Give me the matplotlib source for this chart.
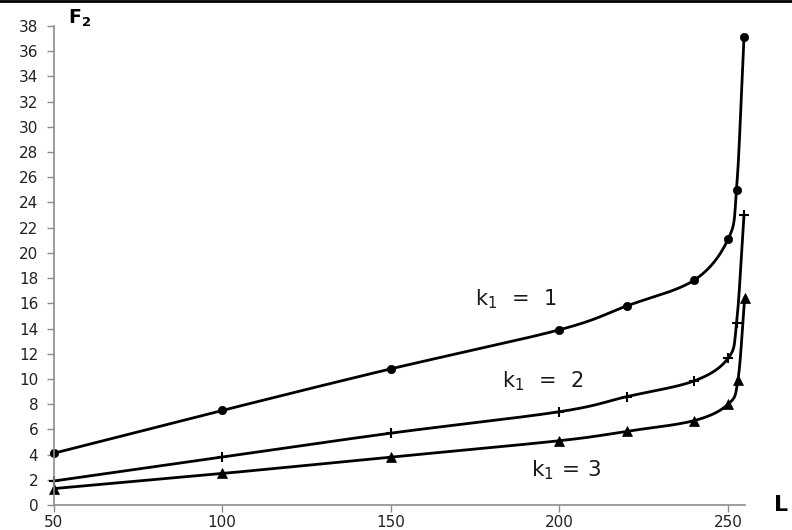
import numpy as np
import matplotlib
matplotlib.use("Agg")
import matplotlib.pyplot as plt
from matplotlib.lines import Line2D

# ---- data ----
L_k1 = [50, 100, 150, 200, 220, 240, 250, 252.5, 254.7]
F_k1 = [4.1, 7.5, 10.8, 13.9, 15.8, 17.85, 21.1, 25.0, 37.1]

L_k2 = [50, 100, 150, 200, 220, 240, 250, 252.5, 254.7]
F_k2 = [1.9, 3.8, 5.7, 7.4, 8.6, 9.85, 11.65, 14.4, 23.0]

L_k3 = [50, 100, 150, 200, 220, 240, 250, 252.9, 254.9]
F_k3 = [1.3, 2.5, 3.8, 5.1, 5.85, 6.7, 8.0, 9.9, 16.45]

x_ticks = [50, 100, 150, 200, 250]
y_ticks = list(range(0, 40, 2))
labels = [r"$\mathregular{k_1\,\ =\ \,1}$", r"$\mathregular{k_1\,\ =\ \,2}$", r"$\mathregular{k_1\,=\,3}$"]

fig = plt.figure(figsize=(7.92, 5.30), dpi=100)
ax = fig.add_axes([53.5 / 792, 1 - 505 / 530, (745 - 53.5) / 792, (505 - 26) / 530])
ax.set_xlim(50, 255)
ax.set_ylim(0, 38)


def smooth(xs, ys, n=30):
    # Catmull-Rom style smoothing in display-proportional space (for drawing the connecting line)
    sx, sy = 3.374, 12.6
    P = np.column_stack([np.asarray(xs) * sx, np.asarray(ys) * sy])
    P = np.vstack([P[0] - (P[1] - P[0]), P, P[-1] + (P[-1] - P[-2])])
    out = []
    for i in range(1, len(P) - 2):
        p0, p1, p2, p3 = P[i - 1], P[i], P[i + 1], P[i + 2]
        t = np.linspace(0, 1, n)[:, None]
        seg = 0.5 * ((2 * p1) + (-p0 + p2) * t + (2 * p0 - 5 * p1 + 4 * p2 - p3) * t ** 2
                     + (-p0 + 3 * p1 - 3 * p2 + p3) * t ** 3)
        out.append(seg if i == 1 else seg[1:])
    out = np.vstack(out)
    return out[:, 0] / sx, out[:, 1] / sy


for xs, ys, mk, ms in [(L_k1, F_k1, "o", 6), (L_k2, F_k2, "+", 7), (L_k3, F_k3, "^", 7)]:
    sx_, sy_ = smooth(xs, ys)
    ax.plot(sx_, sy_, color="black", lw=2.0, solid_capstyle="round", clip_on=False)
    ax.plot(xs, ys, linestyle="none", marker=mk, markersize=ms, color="black",
            markeredgewidth=1.5 if mk == "+" else 0.5, clip_on=False)

for sp in ["top", "right"]:
    ax.spines[sp].set_visible(False)
for sp in ["left", "bottom"]:
    ax.spines[sp].set_color("#8c8c8c")
    ax.spines[sp].set_linewidth(1.2)

ax.set_xticks(x_ticks)
ax.set_yticks(y_ticks)
ax.tick_params(axis="both", direction="out", length=5, width=1, color="#8c8c8c",
               labelsize=11, labelcolor="#222222")
ax.tick_params(axis="x", pad=2.5)
ax.tick_params(axis="y", pad=6)

# axis titles
fig.text(68 / 792, 1 - 18 / 530, r"$\mathbf{F_2}$", fontsize=13.5, ha="left", va="center", color="black")
fig.text(774 / 792, 1 - 505 / 530, "L", fontsize=16, fontweight="bold", ha="left", va="center", color="black")

# curve labels
ax.text(187.1, 16.3, labels[0], fontsize=15, ha="center", va="center", color="#1a1a1a")
ax.text(195.1, 9.84, labels[1], fontsize=15, ha="center", va="center", color="#1a1a1a")
ax.text(201.9, 2.78, labels[2], fontsize=15.5, ha="center", va="center", color="#1a1a1a")

# black frame line at top
fig.add_artist(Line2D([0, 1], [1 - 1 / 530, 1 - 1 / 530], transform=fig.transFigure, color="black", lw=2))

fig.savefig("out.png", dpi=100)
